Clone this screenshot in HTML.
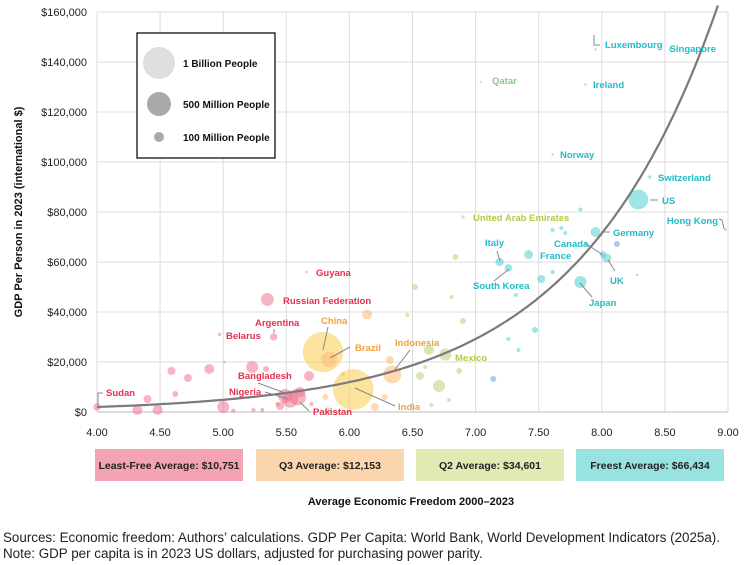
<!DOCTYPE html>
<html><head><meta charset="utf-8">
<style>
html,body{margin:0;padding:0;background:#fff;}
svg{display:block;font-family:"Liberation Sans",sans-serif;}
.lbl{font-weight:bold;font-size:9.5px;font-family:"Liberation Sans Narrow","Liberation Sans",sans-serif;}
</style></head>
<body>
<svg id="chart" width="746" height="565" viewBox="0 0 746 565"></svg>
<script>
// ---- data ----
const names = ["Sudan","Belarus","Argentina","Russian Federation","Guyana","China","Brazil","Bangladesh","Nigeria","Pakistan","India","Indonesia","Mexico","United Arab Emirates","Qatar","Italy","South Korea","France","Norway","Ireland","Luxembourg","Singapore","Germany","Canada","UK","Japan","US","Switzerland","Hong Kong",
"","","","","","","","","","","","","","","","","","","",
"","","","","","","",
"","","","","","","","","","","","",
"","","","","","","","","","","",
"",""];
const freedom = [4.00,4.97,5.40,5.35,5.66,5.79,5.84,5.49,5.53,5.59,6.03,6.34,6.76,6.90,7.04,7.19,7.26,7.42,7.61,7.87,7.95,8.54,7.95,8.01,8.04,7.83,8.29,8.38,8.98,
4.59,4.72,4.89,4.40,4.32,4.48,4.62,5.00,5.23,5.34,5.68,5.24,5.31,5.43,5.70,5.08,5.01,5.61,5.45,
6.14,6.32,5.81,6.20,6.28,5.83,5.95,
6.84,6.52,6.81,6.90,6.56,6.71,6.87,6.46,6.63,6.65,6.79,6.60,
7.83,7.61,7.68,7.71,7.61,7.52,7.32,7.47,7.26,7.34,8.28,
7.14,8.12];
const gdp = [2000,31000,30000,45000,56000,24000,21000,6400,5000,6000,9000,15000,23000,78000,132000,60000,57600,63000,103000,131000,145000,145000,72000,63000,61600,52000,85000,94000,73000,
16400,13600,17200,5200,800,800,7200,2000,18000,17200,14400,800,800,3200,3200,500,20000,8000,2400,
39000,20800,6000,2000,6000,800,15200,
62000,50000,46000,36400,14400,10400,16400,38800,24800,2800,4800,18000,
81000,72800,73600,71600,56000,53200,46800,32800,29200,24800,54800,
13200,67200];
const pop = [48,9,46,144,1,1410,216,171,224,240,1430,277,128,10,3,59,52,68,5,5,1,6,84,40,68,125,335,9,7,
55,55,87,55,87,87,31,125,125,31,87,14,14,14,14,14,3,87,55,
87,55,31,55,31,31,14,
31,31,14,31,55,125,31,14,87,14,14,14,
14,14,14,14,14,55,14,31,14,14,3,
31,31];
// group: 0 least-free, 1 q3, 2 q2, 3 freest, 4 big q3, 5 blue
const group = [0,0,0,0,0,4,1,0,0,0,4,1,2,2,2,3,3,3,3,3,3,3,3,3,3,3,3,3,3,
0,0,0,0,0,0,0,0,0,0,0,0,0,0,0,0,0,0,0,
1,1,1,1,1,1,1,
2,2,2,2,2,2,2,2,2,2,2,2,
3,3,3,3,3,3,3,3,3,3,3,
5,5];
const xTicks = [4,4.5,5,5.5,6,6.5,7,7.5,8,8.5,9];
const yTicks = [0,20000,40000,60000,80000,100000,120000,140000,160000];
const yTickLabels = ["$0","$20,000","$40,000","$60,000","$80,000","$100,000","$120,000","$140,000","$160,000"];
const avgLabels = ["Least-Free Average: $10,751","Q3 Average: $12,153","Q2 Average: $34,601","Freest Average: $66,434"];

// ---- layout ----
const X0=97,X1=728,Y0=412,Y1=12;
const xs = v => X0+(v-4)/5*(X1-X0);
const ys = v => Y0-(v/160000)*(Y0-Y1);
const rs = p => 17*Math.sqrt(p/1000);
const fills=["rgba(240,105,135,0.5)","rgba(250,185,115,0.55)","rgba(185,210,115,0.55)","rgba(80,205,210,0.55)","rgba(250,205,80,0.55)","rgba(100,160,230,0.55)"];
const tcol=["#e5304f","#f2a03d","#b4c94a","#1fbdc7","#f2a03d","#1fbdc7"];
const svg=document.getElementById('chart');
const NS="http://www.w3.org/2000/svg";
function mk(tag,attrs,parent){const e=document.createElementNS(NS,tag);for(const k in attrs)e.setAttribute(k,attrs[k]);(parent||svg).appendChild(e);return e;}

// grid
xTicks.forEach((t,i)=>{
  const g=mk('line',{x1:xs(t),x2:xs(t),y1:Y1,y2:Y0,stroke:'#dcdcdc','stroke-width':1});
  
  
  const tx=mk('text',{x:xs(t),y:436,'text-anchor':'middle','font-size':11,fill:'#222'});
  tx.textContent=t.toFixed(2);
  
  
});
yTicks.forEach((t,i)=>{
  const g=mk('line',{x1:X0,x2:X1,y1:ys(t),y2:ys(t),stroke:i==0?'#bbb':'#dcdcdc','stroke-width':1});
  
  
  const tx=mk('text',{x:87,y:ys(t)+4,'text-anchor':'end','font-size':11,fill:'#222'});
  tx.textContent=yTickLabels[i];
  
  
});

// bubbles (big first)
const order=freedom.map((_,i)=>i).sort((a,b)=>pop[b]-pop[a]);
order.forEach(i=>{
  const c=mk('circle',{cx:xs(freedom[i]),cy:ys(gdp[i]),r:Math.max(1.2,rs(pop[i])),fill:fills[group[i]]});
  
  
});

// trend curve
let d='';
for(let v=4;v<=8.95;v+=0.02){const g=2000*Math.exp(0.894*(v-4));if(g>163000)break;d+=(d?'L':'M')+xs(v).toFixed(1)+','+ys(g).toFixed(1);}
const curve=mk('path',{d:d,fill:'none',stroke:'#7a7a7a','stroke-width':2.2});



// labels: [name, x, y, leader points, anchor]
const labelSpec=[
["Sudan",106,396,"98,405 98,393 103,393"],["Belarus",226,339,""],["Argentina",255,326,"274,329 274,333"],
["Russian Federation",283,304,""],["Guyana",316,276,""],["China",321,324,"328,327 323,350"],
["Brazil",355,351,"350,347 330,358"],["Bangladesh",238,379,"258,383 285,393"],["Nigeria",229,395,"265,392 288,399"],
["Pakistan",313,415,"309,411 300,402"],["India",398,410,"395,406 355,388"],["Indonesia",395,346,"410,350 393,372"],
["Mexico",455,361,""],["United Arab Emirates",473,221,""],["Qatar",492,84,""],["Italy",485,246,"497,251 500,261"],
["South Korea",473,289,"494,281 509,269"],["France",540,259,""],["Norway",560,158,""],["Ireland",593,88,""],
["Luxembourg",605,48,"594,35 594,45 600,45"],["Singapore",716,52,"","end"],["Switzerland",658,181,""],["US",662,204,"650,200 658,200"],
["Hong Kong",718,224,"719,219 722,220 724,229","end"],["Germany",613,236,"603,232 610,232"],["Canada",554,247,"585,243 603,255"],
["UK",610,284,"615,271 608,260"],["Japan",589,306,"592,297 580,283"]];
labelSpec.forEach(s=>{
  const i=names.indexOf(s[0]);
  const col=tcol[group[i]];
  if(s[3]){const l=mk('polyline',{points:s[3],fill:'none',stroke:'#888','stroke-width':1});
    
    }
  const t=mk('text',{x:s[1],y:s[2],fill:s[0]=="Qatar"?"#8cc98a":col,'class':'lbl'});
  if(s[4])t.setAttribute('text-anchor',s[4]);
  if(s[0]=="Brazil")t.setAttribute('font-size','13');
  if(s[0]=="Qatar"){t.setAttribute('font-weight','normal');t.setAttribute('font-size','8.5');}
  t.textContent=s[0];
  
  
});

// legend
const lg=mk('g',{});


mk('rect',{x:137,y:33,width:138,height:125,fill:'#fff',stroke:'#111','stroke-width':1.3},lg);
[[159,63,16,'#dedede','1 Billion People'],[159,104,12,'#a9a9a9','500 Million People'],[159,137,5,'#a9a9a9','100 Million People']].forEach(r=>{
  mk('circle',{cx:r[0],cy:r[1],r:r[2],fill:r[3]},lg);
  const t=mk('text',{x:183,y:r[1]+4,'font-size':10,'font-weight':'bold',fill:'#111'},lg);
  t.textContent=r[4];
});

// average boxes
const boxFill=["#f4a3b4","#fbd5ac","#e0eab2","#98e2e0"];
const boxX=[95,256,416,576];
avgLabels.forEach((s,i)=>{
  const r=mk('rect',{x:boxX[i],y:449,width:148,height:32,fill:boxFill[i]});
  
  
  const t=mk('text',{x:boxX[i]+74,y:469,'text-anchor':'middle','font-size':10.5,'font-weight':'bold',fill:'#222'});
  t.textContent=s;
  
  
});

// titles
const xt=mk('text',{x:411,y:505,'text-anchor':'middle','font-size':11,'font-weight':'bold',fill:'#111'});
xt.textContent="Average Economic Freedom 2000\u20132023";


const yt=mk('text',{x:0,y:0,'text-anchor':'middle','font-size':11,'font-weight':'bold',fill:'#111',transform:'translate(22,212) rotate(-90)'});
yt.textContent="GDP Per Person in 2023 (international $)";


const f1=mk('text',{x:3,y:542,'font-size':13.4,fill:'#222'});
f1.textContent="Sources: Economic freedom: Authors\u2019 calculations. GDP Per Capita: World Bank, World Development Indicators (2025a).";


const f2=mk('text',{x:3,y:558,'font-size':13.4,fill:'#222'});
f2.textContent="Note: GDP per capita is in 2023 US dollars, adjusted for purchasing power parity.";


</script>
</body></html>
